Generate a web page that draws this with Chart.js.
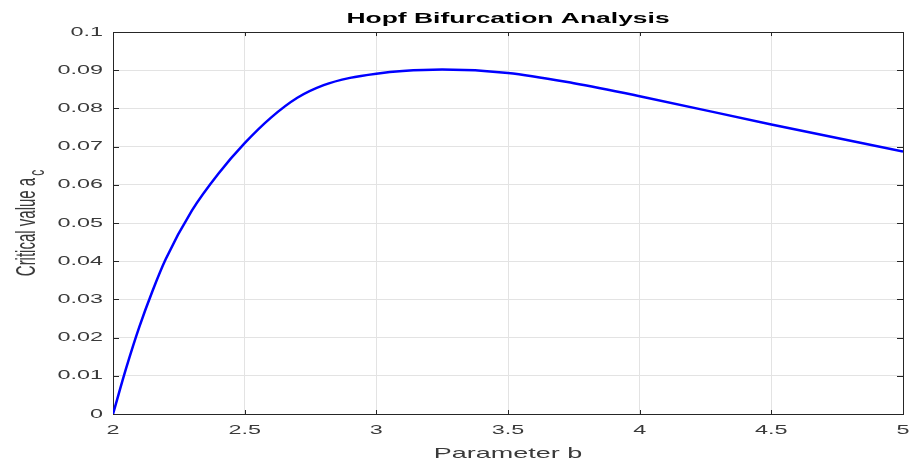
<!DOCTYPE html>
<html>
<head>
<meta charset="utf-8">
<title>Hopf Bifurcation Analysis</title>
<script src="https://cdn.jsdelivr.net/npm/chart.js@4.4.1/dist/chart.umd.min.js"></script>
<style>
  html, body { margin: 0; padding: 0; background: #fff; }
  canvas { display: block; }
</style>
</head>
<body>
<canvas id="hopfChart" width="912" height="466"></canvas>
<script>
// values
const paramB = [2.0, 2.05, 2.1, 2.15, 2.2, 2.3, 2.4, 2.5, 2.6, 2.7, 2.8, 2.9, 3.0, 3.1, 3.25, 3.5, 3.75, 4.0, 4.5, 5.0];
const criticalA = [0, 0.012, 0.0228, 0.0322, 0.0405, 0.0533, 0.0629, 0.0709, 0.0776, 0.0828, 0.0861, 0.088, 0.0891, 0.0898, 0.0902, 0.0893, 0.0866, 0.0832, 0.0758, 0.0687];

const xTicks = [2, 2.5, 3, 3.5, 4, 4.5, 5];
const xTickLabels = ["2", "2.5", "3", "3.5", "4", "4.5", "5"];
const yTicks = [0, 0.01, 0.02, 0.03, 0.04, 0.05, 0.06, 0.07, 0.08, 0.09, 0.1];
const yTickLabels = ["0", "0.01", "0.02", "0.03", "0.04", "0.05", "0.06", "0.07", "0.08", "0.09", "0.1"];

const titleText = "Hopf Bifurcation Analysis";
const xTitle = "Parameter b";
const yTitle = "Critical value a";
const yTitleSub = "c";

const FONT = "'Liberation Sans', Arial, Helvetica, sans-serif";
const AXIS_COLOR = "#262626";
const TEXT_COLOR = "#3a3a3a";
const STRETCH = 1.8; // the figure's text is wider than it is tall

/**
 * Makes every text wider in x, around its own anchor point
 */
const stretchText = {
  id: "stretchText",
  beforeDraw(chart) {
    const ctx = chart.ctx;
    const orig = CanvasRenderingContext2D.prototype.fillText;
    ctx.fillText = function (text, x, y, maxWidth) {
      const m = this.getTransform();
      const px = m.a * x + m.c * y + m.e;
      this.save();
      this.setTransform(new DOMMatrix().translate(px, 0).scale(STRETCH, 1).translate(-px, 0).multiply(m));
      if (maxWidth === undefined) orig.call(this, text, x, y);
      else orig.call(this, text, x, y, maxWidth);
      this.restore();
    };
  },
  afterDraw(chart) {
    delete chart.ctx.fillText;
  },
};

/**
 * Box round the plot, inward tick marks and the y label with subscript
 */
const axesBox = {
  id: "axesBox",
  beforeDatasetsDraw(chart) {
    const { ctx, chartArea: a, scales } = chart;
    ctx.save();
    ctx.strokeStyle = AXIS_COLOR;
    ctx.lineWidth = 1;
    ctx.beginPath();
    xTicks.forEach((v) => {
      const px = Math.round(scales.x.getPixelForValue(v)) + 0.5;
      ctx.moveTo(px, a.bottom);
      ctx.lineTo(px, a.bottom - 4);
      ctx.moveTo(px, a.top);
      ctx.lineTo(px, a.top + 4);
    });
    yTicks.forEach((v) => {
      const py = Math.round(scales.y.getPixelForValue(v)) + 0.5;
      ctx.moveTo(a.left, py);
      ctx.lineTo(a.left + 6, py);
      ctx.moveTo(a.right, py);
      ctx.lineTo(a.right - 6, py);
    });
    ctx.stroke();
    ctx.strokeRect(Math.round(a.left) + 0.5, Math.round(a.top) + 0.5, Math.round(a.right - a.left), Math.round(a.bottom - a.top));
    ctx.restore();
  },
  afterDraw(chart) {
    const { ctx, chartArea: a } = chart;
    ctx.save();
    ctx.fillStyle = TEXT_COLOR;
    ctx.font = "15px " + FONT;
    const w = ctx.measureText(yTitle).width;
    ctx.font = "12px " + FONT;
    const ws = ctx.measureText(yTitleSub).width;
    const total = w + 2 + ws;
    ctx.translate(35, (a.top + a.bottom) / 2 + total / 2);
    ctx.rotate(-Math.PI / 2);
    ctx.textAlign = "left";
    ctx.textBaseline = "alphabetic";
    ctx.font = "15px " + FONT;
    ctx.fillText(yTitle, 0, 0);
    ctx.font = "12px " + FONT;
    ctx.fillText(yTitleSub, w + 2, 9);
    ctx.restore();
  },
};

const ctx = document.getElementById("hopfChart").getContext("2d");
new Chart(ctx, {
  type: "line",
  data: {
    datasets: [
      {
        data: paramB.map((b, i) => ({ x: b, y: criticalA[i] })),
        borderColor: "#0000ff",
        borderWidth: 2.5,
        pointRadius: 0,
        fill: false,
        cubicInterpolationMode: "monotone",
      },
    ],
  },
  options: {
    responsive: false,
    animation: false,
    events: [],
    layout: { padding: { right: 9 } },
    plugins: {
      legend: { display: false },
      tooltip: { enabled: false },
      title: {
        display: true,
        text: titleText,
        fullSize: false,
        color: "#000",
        font: { family: FONT, size: 14.7, weight: "bold" },
        padding: { top: 10, bottom: 4.4 },
      },
    },
    scales: {
      x: {
        type: "linear",
        min: 2,
        max: 5,
        afterBuildTicks: (scale) => {
          scale.ticks = xTicks.map((v) => ({ value: v }));
        },
        afterFit: (scale) => {
          scale.height = 52;
          scale.paddingLeft = 0;
          scale.paddingRight = 0;
        },
        ticks: {
          callback: (v, i) => xTickLabels[i],
          color: TEXT_COLOR,
          font: { family: FONT, size: 13 },
          padding: 9,
          maxRotation: 0,
          autoSkip: false,
        },
        grid: { color: "#e3e3e3", lineWidth: 1, drawTicks: false },
        border: { display: false },
        title: {
          display: true,
          text: xTitle,
          color: TEXT_COLOR,
          font: { family: FONT, size: 15 },
          padding: { top: 0, bottom: 3 },
        },
      },
      y: {
        min: 0,
        max: 0.1,
        afterBuildTicks: (scale) => {
          scale.ticks = yTicks.map((v) => ({ value: v }));
        },
        afterFit: (scale) => {
          scale.width = 113;
        },
        ticks: {
          callback: (v, i) => yTickLabels[i],
          color: TEXT_COLOR,
          font: { family: FONT, size: 13 },
          padding: 10,
        },
        grid: { color: "#e3e3e3", lineWidth: 1, drawTicks: false },
        border: { display: false },
      },
    },
  },
  plugins: [axesBox, stretchText],
});
</script>
</body>
</html>
